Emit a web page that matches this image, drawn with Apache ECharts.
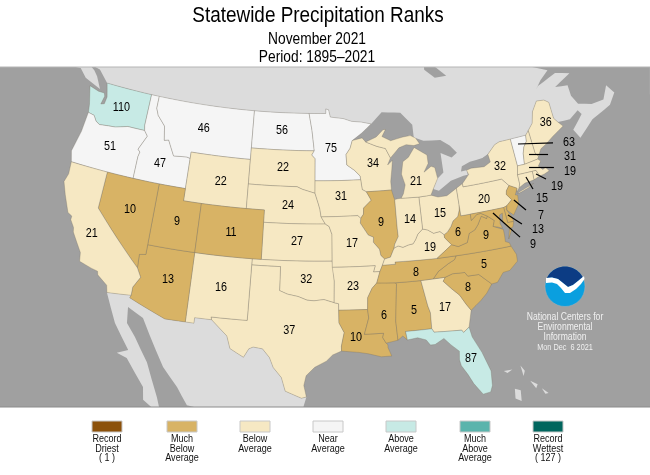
<!DOCTYPE html>
<html>
<head>
<meta charset="utf-8">
<style>
    html, body { margin: 0; padding: 0; background: #fff; }
    #chart { width: 650px; height: 475px; }
</style>
<script src="https://cdn.jsdelivr.net/npm/echarts@6/dist/echarts.min.js"></script>
</head>
<body>
<div id="chart"></div>
<script>
// chart values
const stateNames = ['WA', 'OR', 'ID', 'MT', 'WY', 'ND', 'SD', 'NE', 'KS', 'OK', 'TX', 'NM', 'AZ', 'UT', 'CO', 'NV', 'CA', 'MN', 'WI', 'IA', 'IL', 'MO', 'AR', 'LA', 'MS', 'AL', 'GA', 'FL', 'SC', 'NC', 'TN', 'KY', 'VA', 'WV', 'OH', 'IN', 'MI', 'PA', 'NY', 'ME', 'VT', 'NH', 'MA', 'RI', 'CT', 'NJ', 'DE', 'MD'];
const stateRanks = [110, 51, 47, 46, 22, 56, 22, 24, 27, 32, 37, 16, 13, 9, 11, 10, 21, 75, 34, 31, 9, 17, 23, 10, 6, 5, 17, 87, 8, 5, 8, 19, 9, 6, 15, 14, 21, 20, 32, 36, 63, 31, 19, 19, 15, 7, 13, 9];

// lon/lat where each rank is written, same order as stateNames
const labelAnchors = [[-120.3, 47.4], [-120.45, 44.1], [-114.4, 43.67], [-110, 47.1], [-107.2, 43], [-100.5, 47.57], [-100.2, 44.56], [-99.45, 41.5], [-98.36, 38.6], [-97.3, 35.56], [-98.9, 31.4], [-105.94, 34.5], [-111.36, 34.5], [-111.4, 39.3], [-105.48, 39], [-116.64, 39.5], [-120, 36.9], [-94.57, 46.1], [-89.68, 44.8], [-93.52, 42.24], [-89.23, 39.98], [-92.48, 38.4], [-92.54, 34.95], [-92.42, 30.8], [-89.58, 32.47], [-86.58, 32.67], [-83.51, 32.6], [-81.7, 28.2], [-80.95, 33.95], [-78.98, 35.5], [-86, 35.7], [-84.26, 37.6], [-78.22, 37.83], [-81.1, 38.46], [-82.72, 40.2], [-86.05, 40], [-84.93, 43], [-77.71, 40.73], [-75.21, 43.06], [-68.8, 45.6], [-66.9, 43.46], [-67.25, 42.36], [-67.74, 41.2], [-69.57, 40.34], [-71.5, 39.74], [-72.06, 38.42], [-72.72, 37.4], [-73.6, 36.3]];

// leader lines from the small eastern states out to their numbers
const leaderLines = [
    [[-72.62, 44.46], [-68.68, 43.78]],
    [[-71.67, 43.45], [-69.57, 43.04]],
    [[-72.03, 42.43], [-69.33, 41.9]],
    [[-71.47, 41.73], [-70.54, 41.13]],
    [[-72.64, 41.71], [-72.21, 40.62]],
    [[-74.52, 40.13], [-73.49, 39.11]],
    [[-75.5, 39.05], [-74.25, 38.1]],
    [[-77.04, 39.47], [-74.75, 37.1]]
];

const classUpperRanks = [1, 13, 42, 85, 114, 126, 127];
const classColors = ['#8c510a', '#d8b365', '#f6e8c3', '#f5f5f5', '#c7eae5', '#5ab4ac', '#01665e'];
const classNames = [['Record', 'Driest', '( 1 )'], ['Much', 'Below', 'Average'], ['Below', 'Average'], ['Near', 'Average'], ['Above', 'Average'], ['Much', 'Above', 'Average'], ['Record', 'Wettest', '( 127 )']];

// shared borders, lon/lat
const columbia = [[-123.95, 46.25], [-123.2, 46.15], [-122.8, 45.75], [-122.3, 45.55], [-121.2, 45.65], [-120.4, 45.7], [-119.3, 45.93], [-118.98, 46], [-116.92, 46]];
const snake = [[-117.03, 42], [-117.03, 43.8], [-116.92, 44.2], [-117.2, 44.4], [-116.46, 45.6], [-116.92, 46]];
const bitterroot = [[-116.05, 48], [-115.7, 47.45], [-114.7, 46.7], [-114.4, 45.55], [-113.9, 45.65], [-113.45, 45.05], [-113, 44.45], [-111.5, 44.55], [-111.05, 44.48]];
const caCoast = [[-117.12, 32.53], [-117.3, 33.1], [-118.4, 33.75], [-118.5, 34.03], [-119.2, 34.15], [-120.5, 34.45], [-120.65, 35.15], [-121.9, 36.6], [-122, 36.95], [-122.5, 37.5], [-122.5, 37.8], [-123, 38], [-123.8, 39.3], [-124.35, 40.3], [-124.1, 41], [-124.2, 42]];
const colorado = [[-114.63, 35], [-114.13, 34.3], [-114.72, 33.4], [-114.72, 32.72]];
const redRiver = [[-100, 34.56], [-99.2, 34.3], [-98.1, 34.13], [-97.2, 33.85], [-96.5, 33.8], [-95.5, 33.9], [-94.48, 33.64]];
const rioGrande = [[-97.15, 25.96], [-97.6, 25.85], [-99.1, 26.4], [-99.5, 27.5], [-100.3, 28.3], [-100.7, 29.1], [-101.4, 29.77], [-102.3, 29.87], [-102.7, 29.7], [-103.15, 28.98], [-104.5, 29.6], [-104.9, 30.6], [-106.53, 31.78]];
const missouriUpper = [[-96.45, 42.49], [-96.1, 41.7], [-95.9, 41.2], [-95.77, 40.58]];
const stCroix = [[-92, 46.72], [-92.29, 46.1], [-92.8, 45.6], [-92.75, 44.75], [-91.9, 44.3], [-91.25, 43.8], [-91.22, 43.5], [-91.1, 42.7], [-90.64, 42.5]];
const missIowa = [[-90.64, 42.5], [-90.15, 41.8], [-91.05, 41.2], [-91.1, 40.7], [-91.42, 40.38]];
const missMo = [[-91.42, 40.38], [-91.5, 40], [-90.7, 39], [-90.15, 38.8], [-90.2, 38.4], [-89.6, 37.8], [-89.5, 37.3], [-89.13, 36.98]];
const missAr = [[-89.7, 36], [-90.1, 35.1], [-90.6, 34.7], [-91.1, 33.95], [-91.17, 33]];
const missLa = [[-91.17, 33], [-91.1, 32.3], [-91.6, 31]];
const ohioEast = [[-80.52, 40.64], [-80.6, 40.2], [-80.87, 39.7], [-81.45, 39.4], [-81.75, 39], [-82.2, 38.6], [-82.6, 38.42]];
const ohioMid = [[-82.6, 38.42], [-83, 38.72], [-83.7, 38.65], [-84.3, 38.98], [-84.82, 39.1]];
const ohioWest = [[-84.82, 39.1], [-85.4, 38.72], [-85.7, 38.3], [-86, 38], [-86.5, 37.95], [-87.1, 37.8], [-87.6, 37.95], [-88.05, 37.8]];
const ohioLow = [[-88.05, 37.8], [-88.5, 37.1], [-89.13, 36.98]];
const wabash = [[-88.05, 37.8], [-87.95, 38.1], [-87.5, 38.7], [-87.53, 39.35], [-87.53, 41.7]];
const savannah = [[-83.1, 35], [-83.35, 34.7], [-82.6, 34], [-81.9, 33.4], [-81.4, 32.6], [-81, 32.05]];
const carolinaLine = [[-83.1, 35], [-82.3, 35.2], [-81.05, 35.15], [-80.8, 34.82], [-79.67, 34.8], [-78.55, 33.86]];
const smokies = [[-81.68, 36.59], [-81.9, 36.3], [-82.6, 36.05], [-83.7, 35.55], [-84.32, 35]];
const wvVa = [[-81.97, 37.53], [-81.3, 37.3], [-80.3, 37.5], [-79.95, 38.2], [-79.3, 38.4], [-78.87, 38.77], [-78.35, 39.4], [-77.83, 39.13], [-77.72, 39.32]];
const potomac = [[-77.72, 39.32], [-78.35, 39.63], [-78.8, 39.6], [-79.48, 39.2], [-79.48, 39.72]];
const njPa = [[-74.7, 41.36], [-75.1, 41], [-75.2, 40.7], [-74.75, 40.2], [-75.42, 39.8]];
const rev = line => line.slice().reverse();

const stateShapes = {
    WA: [[[-124.7, 48.38], [-124.1, 46.9], ...columbia, [-117.04, 46.4], [-117.03, 49], [-122.76, 49], [-122.5, 48.4], [-122.3, 47.9], [-122.4, 47.3], [-122.8, 47.2], [-122.6, 47.9], [-122.75, 48.15], [-123.5, 48.15]]],
    OR: [[[-124.2, 42], [-124.55, 42.85], [-124.1, 44.6], ...columbia, ...rev(snake)]],
    CA: [[[-124.2, 42], [-120, 42], [-120, 39], ...colorado, ...caCoast]],
    NV: [[[-120, 42], [-114.04, 42], [-114.04, 36.2], [-114.7, 36.1], [-114.63, 35], [-120, 39]]],
    UT: [[[-114.04, 42], [-111.05, 42], [-111.05, 41], [-109.05, 41], [-109.05, 37], [-114.04, 37]]],
    AZ: [[[-114.04, 37], [-109.05, 37], [-109.05, 31.33], [-111.07, 31.33], [-114.81, 32.5], ...rev(colorado), [-114.7, 36.1], [-114.04, 36.2]]],
    ID: [[[-117.03, 49], [-116.05, 49], ...bitterroot, [-111.05, 42], ...snake, [-117.04, 46.4]]],
    MT: [[[-116.05, 49], [-104.05, 49], [-104.05, 45], [-111.05, 45], ...rev(bitterroot)]],
    WY: [[[-111.05, 45], [-104.05, 45], [-104.05, 41], [-111.05, 41]]],
    CO: [[[-109.05, 41], [-102.05, 41], [-102.05, 37], [-109.05, 37]]],
    NM: [[[-109.05, 37], [-103, 37], [-103.05, 32], [-106.62, 32], [-106.53, 31.78], [-108.2, 31.78], [-108.2, 31.33], [-109.05, 31.33]]],
    ND: [[[-104.05, 49], [-97.23, 49], [-96.85, 47.6], [-96.56, 45.94], [-104.05, 45.94]]],
    SD: [[[-104.05, 45.94], [-96.56, 45.94], [-96.85, 45.6], [-96.45, 45.3], [-96.45, 42.49], [-97.9, 42.8], [-98.5, 43], [-104.05, 43]]],
    NE: [[[-104.05, 43], [-98.5, 43], [-97.9, 42.8], ...missouriUpper, [-95.31, 40], [-102.05, 40], [-102.05, 41], [-104.05, 41]]],
    KS: [[[-102.05, 40], [-95.31, 40], [-94.9, 39.8], [-94.6, 39.15], [-94.62, 37], [-102.05, 37]]],
    OK: [[[-103, 37], [-94.62, 37], [-94.43, 35.4], ...rev(redRiver), [-100, 36.5], [-103, 36.5]]],
    TX: [[[-103, 36.5], [-100, 36.5], ...redRiver, [-94.04, 33.55], [-94.04, 32], [-93.55, 31.2], [-93.85, 30.1], [-93.85, 29.7], [-94.7, 29.4], [-95.3, 28.9], [-96.4, 28.4], [-97.2, 27.7], [-97.4, 26.9], ...rioGrande, [-106.62, 32], [-103.05, 32]]],
    MN: [[[-97.23, 49], [-95.15, 49], [-95.15, 49.38], [-94.8, 49.3], [-94.6, 48.7], [-93, 48.55], [-92, 48.3], [-90.8, 48.2], [-89.6, 48], [-90.8, 47.3], ...stCroix.slice(0, 7), [-96.45, 43.5], [-96.45, 45.3], [-96.85, 45.6], [-96.56, 45.94], [-96.85, 47.6]]],
    IA: [[[-96.45, 43.5], [-91.22, 43.5], [-91.1, 42.7], ...missIowa, [-91.73, 40.61], ...rev(missouriUpper)]],
    MO: [[[-95.77, 40.58], [-91.73, 40.61], ...missMo, [-89.4, 36.5], [-89.7, 36], [-90.37, 36], [-90.15, 36.5], [-94.62, 36.5], [-94.62, 37], [-94.6, 39.15], [-94.9, 39.8], [-95.31, 40]]],
    AR: [[[-94.62, 36.5], [-90.15, 36.5], [-90.37, 36], ...missAr, [-94.04, 33.02], [-94.04, 33.55], [-94.48, 33.64], [-94.43, 35.4]]],
    LA: [[[-94.04, 33.02], ...missLa, [-89.73, 31], [-89.85, 30.65], [-89.55, 30.18], [-89.4, 30.05], [-89.4, 29.8], [-89.1, 29.1], [-90.1, 29.1], [-91.3, 29.4], [-92.2, 29.55], [-93.85, 29.7], [-93.85, 30.1], [-93.55, 31.2], [-94.04, 32]]],
    MS: [[...missAr.slice(1), ...missLa.slice(1), [-89.73, 31], [-89.85, 30.65], [-89.55, 30.18], [-88.4, 30.35], [-88.47, 31.9], [-88.1, 34.9], [-88.2, 35]]],
    AL: [[[-88.2, 35], [-85.6, 34.98], [-85.18, 32.87], [-85, 32.3], [-85.05, 31], [-87.6, 31], [-87.5, 30.3], [-87.9, 30.65], [-88.4, 30.35], [-88.47, 31.9], [-88.1, 34.9]]],
    GA: [[[-85.6, 34.98], ...savannah, [-81.45, 30.72], [-82.05, 30.36], [-82.2, 30.57], [-84.86, 30.7], [-85.05, 31], [-85, 32.3], [-85.18, 32.87]]],
    FL: [[[-87.6, 31], [-85.05, 31], [-84.86, 30.7], [-82.2, 30.57], [-82.05, 30.36], [-81.45, 30.72], [-81.3, 29.9], [-80.6, 28.5], [-80.05, 26.9], [-80.15, 25.7], [-80.4, 25.2], [-81.1, 25.12], [-81.8, 26.1], [-82.2, 26.9], [-82.7, 27.7], [-82.8, 28.2], [-82.7, 28.9], [-83.4, 29.5], [-84, 30.1], [-84.9, 29.7], [-85.35, 29.7], [-85.7, 30.15], [-86.5, 30.4], [-87.5, 30.3]]],
    SC: [[...carolinaLine, [-79.2, 33.2], [-79.9, 32.7], ...rev(savannah)]],
    NC: [[[-84.32, 35], ...carolinaLine, [-77.95, 33.9], [-77.2, 34.6], [-76.5, 34.65], [-75.55, 35.25], [-75.5, 35.8], [-75.87, 36.55], ...smokies]],
    TN: [[[-89.7, 36], [-89.4, 36.5], [-88.05, 36.5], [-88.07, 36.68], [-83.68, 36.6], ...smokies, [-85.6, 34.98], [-88.2, 35], [-90.1, 35.1]]],
    KY: [[[-89.4, 36.5], ...rev(ohioLow), ...rev(ohioWest), ...rev(ohioMid), [-82.6, 38.17], [-81.97, 37.53], [-83.68, 36.6], [-88.07, 36.68], [-88.05, 36.5]]],
    VA: [[[-83.68, 36.6], ...wvVa, [-77.05, 38.85], [-77.3, 38.4], [-76.3, 38], [-76.3, 37.5], [-76.35, 37], [-75.97, 36.85], [-75.87, 36.55], [-81.68, 36.59]], [[-75.95, 37.15], [-75.4, 37.9], [-75.65, 37.95]]],
    WV: [[[-82.6, 38.17], ...rev(ohioEast), [-80.52, 39.72], [-79.48, 39.72], ...rev(potomac), ...rev(wvVa)]],
    MD: [[[-79.48, 39.72], [-75.79, 39.72], [-75.7, 38.46], [-75.05, 38.45], [-75.25, 38.03], [-75.65, 37.95], [-75.9, 38.2], [-76.2, 38.6], [-76.05, 39.3], [-76.4, 39.2], [-76.5, 38.5], [-76.35, 38.1], [-76.9, 38.3], [-77.3, 38.4], [-77.05, 38.85], ...potomac]],
    DE: [[[-75.79, 39.72], [-75.42, 39.8], [-75.55, 39.5], [-75.1, 38.8], [-75.05, 38.45], [-75.7, 38.46]]],
    NJ: [[...njPa, [-75.5, 39.45], [-74.9, 38.95], [-74.1, 39.75], [-74, 40.45], [-74.25, 40.5], [-73.9, 41]]],
    PA: [[[-80.52, 41.98], [-79.76, 42.27], [-79.76, 42], [-75.35, 42], ...njPa, [-75.79, 39.72], [-80.52, 39.72]]],
    NY: [[[-79.76, 42.27], [-79.76, 42], [-75.35, 42], [-74.7, 41.36], [-73.9, 41], [-74, 40.7], [-73.65, 41], [-73.5, 41.3], [-73.5, 42.05], [-73.27, 42.75], [-73.35, 45], [-74.7, 45], [-75.3, 44.85], [-76.3, 44.2], [-76.2, 43.55], [-77, 43.28], [-78.5, 43.37], [-79.05, 43.27], [-78.9, 42.9]], [[-74, 40.6], [-72, 41.05], [-72.7, 40.8], [-73.7, 40.58]]],
    VT: [[[-73.35, 45], [-71.5, 45], [-71.6, 44.5], [-72.05, 44.1], [-72.3, 43.6], [-72.46, 42.73], [-73.27, 42.75]]],
    NH: [[[-71.5, 45], [-71.08, 45.3], [-70.98, 43.4], [-70.7, 43.07], [-70.85, 42.87], [-72.46, 42.73], [-72.3, 43.6], [-72.05, 44.1], [-71.6, 44.5]]],
    ME: [[[-71.08, 45.3], [-70.4, 45.8], [-70, 46.7], [-69.2, 47.45], [-68.3, 47.35], [-67.8, 47.05], [-67.8, 45.7], [-67.45, 45.3], [-67, 44.85], [-68.5, 44.3], [-69.5, 43.85], [-70.2, 43.6], [-70.7, 43.07], [-70.98, 43.4]]],
    MA: [[[-73.5, 42.05], [-73.27, 42.75], [-72.46, 42.73], [-70.85, 42.87], [-70.6, 42.65], [-71, 42.3], [-70.6, 41.95], [-70.25, 42.05], [-69.95, 41.7], [-70.6, 41.55], [-71.13, 41.5], [-71.38, 42.02], [-71.8, 42.02]]],
    RI: [[[-71.8, 42.02], [-71.38, 42.02], [-71.13, 41.5], [-71.85, 41.32]]],
    CT: [[[-73.5, 42.05], [-71.8, 42.02], [-71.85, 41.32], [-72.9, 41.25], [-73.65, 41], [-73.5, 41.3]]],
    OH: [[[-84.82, 41.7], [-83.45, 41.73], [-82.7, 41.5], [-81.7, 41.5], [-80.52, 41.98], ...ohioEast, ...ohioMid]],
    IN: [[[-87.53, 41.7], [-87.2, 41.75], [-86.8, 41.76], [-84.82, 41.7], ...ohioWest, ...wabash.slice(1, 4)]],
    IL: [[[-90.64, 42.5], [-87.8, 42.5], [-87.6, 41.85], ...rev(wabash), ...ohioLow, ...rev(missMo), ...rev(missIowa).slice(1, 4)]],
    WI: [[[-92, 46.72], [-90.8, 46.9], [-90.4, 46.55], [-89.1, 46.13], [-88.1, 45.9], [-87.6, 45.1], [-88, 44.55], [-87.4, 44.9], [-87.55, 44.2], [-87.8, 43.2], [-87.8, 42.5], ...rev(stCroix)]],
    MI: [[[-86.8, 41.76], [-84.82, 41.7], [-83.45, 41.73], [-83.1, 42.2], [-82.45, 43], [-82.6, 43.9], [-83, 44.05], [-83.9, 43.65], [-83.3, 44.3], [-83.3, 45], [-84.7, 45.75], [-85.5, 45], [-86.2, 44.7], [-86.5, 43.7], [-86.2, 42.8], [-86.5, 42.1]], [[-90.4, 46.55], [-89.1, 46.9], [-88.2, 47.45], [-87.9, 47.45], [-88.4, 46.9], [-87.4, 46.5], [-85.9, 46.7], [-85, 46.75], [-84.4, 46.5], [-84, 46], [-84.7, 45.9], [-85.6, 46.05], [-86.5, 45.85], [-87.6, 45.1], [-88.1, 45.9], [-89.1, 46.13]]]
};

const landShapes = {
    canada: [[[-135, 60], [-125, 50.5], [-123.2, 49.3], [-122.76, 49], [-95.15, 49], [-95.15, 49.38], [-94.8, 49.3], [-94.6, 48.7], [-93, 48.55], [-92, 48.3], [-90.8, 48.2], [-89.6, 48], [-84.5, 46.5], [-82.5, 45.3], [-82.5, 43], [-83.1, 42.2], [-82.7, 41.6], [-79, 42.8], [-79, 43.3], [-76.3, 44.2], [-75.3, 44.85], [-74.7, 45], [-71.5, 45], [-71.08, 45.3], [-70.4, 45.8], [-70, 46.7], [-69.2, 47.45], [-68.3, 47.35], [-67.8, 47.05], [-67.8, 45.7], [-67.45, 45.3], [-66, 45.2], [-64.8, 45.7], [-64.5, 45.3], [-66, 44.3], [-65.5, 43.5], [-63.5, 44.6], [-61, 45.2], [-60, 46], [-60.6, 46.8], [-61.5, 45.8], [-63, 45.8], [-64.5, 46.2], [-65, 47], [-65, 47.9], [-66.5, 48.1], [-64.3, 48.8], [-66, 49.2], [-68.5, 48.6], [-71, 46.9], [-70, 47.5], [-68, 49], [-66.8, 49.6], [-70, 60]], [[-128.4, 50.8], [-125.5, 48.9], [-123.4, 48.35], [-124.2, 49.3], [-125.3, 50.1]]],
    mexico: [[[-117.12, 32.53], [-114.72, 32.72], [-114.81, 32.5], [-111.07, 31.33], [-108.2, 31.33], [-108.2, 31.78], [-106.53, 31.78], ...rev(rioGrande), [-97.4, 24.5], [-97.5, 20], [-106, 20], [-107.9, 24.6], [-109, 25.97], [-110.53, 27.43], [-113.17, 31.1], [-114.8, 31.75], [-114.6, 30.45], [-113.6, 29.46], [-112.08, 27.6], [-110.67, 24.9], [-110.3, 23.8], [-111, 23.8], [-111.86, 24.5], [-112.06, 25.55], [-114, 27.65], [-115, 27.9], [-114, 28.3], [-115.73, 30.25]]],
    bahamas: [[[-78.9, 26.7], [-78.1, 26.7], [-78.6, 26.5]], [[-77.3, 26.9], [-77, 26.4], [-77.2, 26]], [[-76.7, 25.5], [-76.1, 25.1], [-76.3, 24.8]], [[-78.2, 25.1], [-77.7, 24.9], [-77.8, 24], [-78.3, 24.3]], [[-75.8, 24.7], [-75.3, 24.2], [-75.6, 24.2]]]
};

const lakeShapes = {
    superior: [[[-92, 46.72], [-90.8, 46.9], [-90.4, 46.55], [-89.1, 46.9], [-88.2, 47.45], [-87.9, 47.45], [-88.4, 46.9], [-87.4, 46.5], [-85.9, 46.7], [-85, 46.75], [-84.6, 46.5], [-84.6, 47.6], [-85.9, 48.7], [-88.2, 48.9], [-89.6, 48], [-90.8, 47.3]]],
    michigan: [[[-87.6, 41.85], [-87.2, 41.7], [-86.8, 41.76], [-86.5, 42.1], [-86.2, 42.8], [-86.5, 43.7], [-86.2, 44.7], [-85.5, 45], [-84.7, 45.75], [-85.6, 46.05], [-86.5, 45.85], [-87.6, 45.1], [-88, 44.55], [-87.4, 44.9], [-87.55, 44.2], [-87.8, 43.2], [-87.8, 42.5]]],
    huron: [[[-84.7, 45.75], [-83.3, 45], [-83.3, 44.3], [-83.9, 43.65], [-83, 44.05], [-82.6, 43.9], [-82.45, 43], [-81.7, 43.4], [-81.7, 45], [-80.5, 44.5], [-79.8, 44.8], [-80.5, 45.5], [-81.5, 46.05], [-83.5, 46.2], [-84.4, 46.5], [-84, 46], [-84.7, 45.9]]],
    erie: [[[-83.45, 41.73], [-82.7, 41.5], [-81.7, 41.5], [-80.52, 41.98], [-79.76, 42.27], [-78.9, 42.9], [-79.5, 42.87], [-81, 42.65], [-82.5, 42], [-83.1, 42.2]]],
    ontario: [[[-79.05, 43.27], [-78.5, 43.37], [-77, 43.28], [-76.2, 43.55], [-76.3, 44.2], [-77, 44], [-78.5, 43.9], [-79.5, 43.65], [-79.7, 43.25]]],
    james: [[[-81, 51.2], [-79.5, 51.2], [-80.5, 53], [-82, 53], [-82.2, 52]]]
};

// Albers conic fitted to the picture, clamped to the map frame
const FRAME = { x: 0, y: 67, w: 650, h: 340 };
const N = 0.6028, C = 1.3512, RHO0 = 1.3033, RAD = Math.PI / 180;
const projectAlbers = ([lon, lat]) => {
    const rho = Math.sqrt(C - 2 * N * Math.sin(lat * RAD)) / N;
    const theta = N * (lon + 96) * RAD;
    const px = 319 + 692 * rho * Math.sin(theta);
    const py = 255 - 703 * (RHO0 - rho * Math.cos(theta));
    return [
        Math.min(FRAME.x + FRAME.w, Math.max(FRAME.x, px)),
        Math.min(FRAME.y + FRAME.h, Math.max(FRAME.y, py))
    ];
};
const unprojectAlbers = ([px, py]) => {
    const x = (px - 319) / 692;
    const y = RHO0 - (255 - py) / 703;
    const rho = Math.sqrt(x * x + y * y);
    return [-96 + Math.atan2(x, y) / N / RAD, Math.asin((C - rho * rho * N * N) / (2 * N)) / RAD];
};

// long edges have to bend with the projection
const densify = ring => {
    const out = [];
    ring.forEach((p, i) => {
        const q = ring[(i + 1) % ring.length];
        const steps = Math.max(1, Math.ceil(Math.abs(q[0] - p[0])));
        for (let s = 0; s < steps; s++) {
            out.push([p[0] + (q[0] - p[0]) * s / steps, p[1] + (q[1] - p[1]) * s / steps]);
        }
    });
    out.push(out[0]);
    return out;
};
const toFeature = (name, rings) => ({
    type: 'Feature',
    properties: { name },
    geometry: { type: 'MultiPolygon', coordinates: rings.map(r => [densify(r)]) }
});

const features = [toFeature('frame', [[[-165, 60], [-30, 60], [-40, 5], [-150, 5]]])];
Object.keys(landShapes).forEach(k => features.push(toFeature(k, landShapes[k])));
Object.keys(lakeShapes).forEach(k => features.push(toFeature(k, lakeShapes[k])));
stateNames.forEach(k => features.push(toFeature(k, stateShapes[k])));
echarts.registerMap('conus', { type: 'FeatureCollection', features });

const SEA = '#a0a0a0', LAND = '#dcdcdc';
const classOf = rank => classUpperRanks.findIndex(u => rank <= u);

const regions = [{ name: 'frame', itemStyle: { areaColor: SEA, borderWidth: 0 } }];
Object.keys(landShapes).forEach(name => regions.push({ name, itemStyle: { areaColor: LAND, borderWidth: 0 } }));
Object.keys(lakeShapes).forEach(name => regions.push({ name, itemStyle: { areaColor: SEA, borderWidth: 0 } }));
stateNames.forEach((name, i) => regions.push({
    name,
    itemStyle: { areaColor: classColors[classOf(stateRanks[i])], borderColor: 'rgba(110,104,88,0.42)', borderWidth: 0.7 }
}));

const SANS = '"Liberation Sans", Arial, sans-serif';
const squeezedText = (text, x, y, fontSize, fill, extra) => ({
    type: 'text', x, y, scaleX: 0.86, silent: true, z: 20,
    style: Object.assign({ text, fontSize, fontFamily: SANS, fill, align: 'center', verticalAlign: 'middle' }, extra)
});

const legendXs = [107, 182, 255, 328, 401, 475, 548];
const legendGraphics = [];
classColors.forEach((color, i) => {
    legendGraphics.push({
        type: 'rect', silent: true, z: 20,
        shape: { x: legendXs[i] - 15, y: 421, width: 30, height: 11 },
        style: { fill: color, stroke: '#c8c8c8', lineWidth: 1 }
    });
    classNames[i].forEach((line, j) => {
        legendGraphics.push(squeezedText(line, legendXs[i], 439.5 + j * 9.5, 10.5, '#111'));
    });
});

// NOAA mark: disc, dark cap and white bird
const LOGO = { cx: 565, cy: 286.5, r: 20 };
const swooshTop = [[584, 276], [578, 281], [573, 285], [568, 287], [563, 283], [558, 279], [552, 277.5], [546, 278]];
const swooshBottom = [[546, 283], [552, 282.5], [557, 284], [561, 288], [565, 293], [570, 293], [576, 289], [581, 284], [584.5, 279]];
const capArc = [];
for (let a = 162; a >= 24; a -= 6) {
    capArc.push([LOGO.cx + LOGO.r * Math.cos(a * RAD), LOGO.cy - LOGO.r * Math.sin(a * RAD)]);
}
const logoGraphics = [
    { type: 'circle', silent: true, z: 20, shape: LOGO, style: { fill: '#0a9fdf', stroke: '#b0b0b0', lineWidth: 0.5 } },
    { type: 'polygon', silent: true, z: 21, shape: { points: [...capArc, ...swooshTop] }, style: { fill: '#0c3c84' } },
    { type: 'polygon', silent: true, z: 21, shape: { points: [...swooshTop, ...swooshBottom] }, style: { fill: '#ffffff' } },
    squeezedText('NOAA', 565, 276, 7.5, '#fff', { fontWeight: 'bold' }),
    squeezedText('National Centers for', 565, 317, 10, '#f0f0f0'),
    squeezedText('Environmental', 565, 327, 10, '#f0f0f0'),
    squeezedText('Information', 565, 337, 10, '#f0f0f0'),
    squeezedText('Mon Dec  6 2021', 565, 347.5, 8.5, '#f0f0f0')
];

const chart = echarts.init(document.getElementById('chart'), null, { renderer: 'canvas' });
chart.setOption({
    animation: false,
    backgroundColor: '#fff',
    geo: {
        map: 'conus',
        projection: { project: projectAlbers, unproject: unprojectAlbers },
        left: FRAME.x, top: FRAME.y, width: FRAME.w, height: FRAME.h,
        roam: false,
        silent: true,
        label: { show: false },
        emphasis: { disabled: true },
        select: { disabled: true },
        itemStyle: { areaColor: LAND, borderWidth: 0 },
        regions
    },
    series: [
        {
            type: 'lines',
            coordinateSystem: 'geo',
            silent: true,
            z: 5,
            lineStyle: { color: '#000', width: 1.2, opacity: 1 },
            data: leaderLines.map(coords => ({ coords }))
        },
        {
            // custom so the digits can be squeezed like the reference
            type: 'custom',
            coordinateSystem: 'geo',
            silent: true,
            z: 6,
            renderItem: (params, api) => {
                const pt = api.coord([api.value(0), api.value(1)]);
                return {
                    type: 'text',
                    x: pt[0],
                    y: pt[1],
                    scaleX: 0.8,
                    style: {
                        text: String(api.value(2)),
                        fill: '#000',
                        fontSize: 13.5,
                        fontFamily: SANS,
                        align: 'center',
                        verticalAlign: 'middle'
                    }
                };
            },
            data: labelAnchors.map((a, i) => [a[0], a[1], stateRanks[i]])
        }
    ],
    graphic: [
        squeezedText('Statewide Precipitation Ranks', 318, 16, 22, '#000'),
        squeezedText('November 2021', 317, 39.5, 16, '#000'),
        squeezedText('Period: 1895\u20132021', 317, 57.5, 16, '#000'),
        { type: 'line', silent: true, z: 20, shape: { x1: 0, y1: 67, x2: 650, y2: 67 }, style: { stroke: '#b4b4b4', lineWidth: 1 } },
        { type: 'line', silent: true, z: 20, shape: { x1: 0, y1: 407, x2: 650, y2: 407 }, style: { stroke: '#8c8c8c', lineWidth: 1 } },
        ...logoGraphics,
        ...legendGraphics
    ]
});
</script>
</body>
</html>
